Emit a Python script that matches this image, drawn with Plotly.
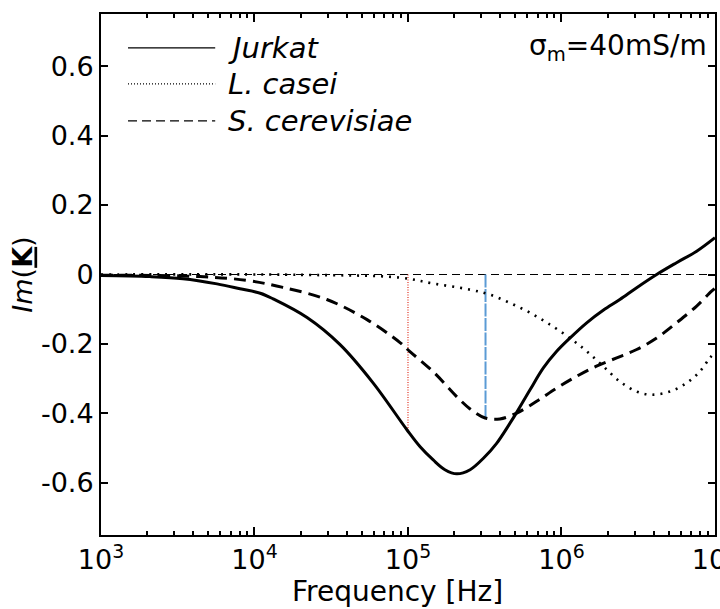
import plotly.graph_objects as go

# Frequencies [Hz] and Im(K) values
freq_jurkat = [1.0e3, 2.08e3, 3.42e3, 5.70e3, 8.05e3, 1.09e4, 1.32e4, 2.20e4, 3.61e4, 5.92e4,
               9.84e4, 1.20e5, 1.46e5, 1.74e5, 2.08e5, 2.54e5, 3.10e5, 3.78e5, 4.62e5, 5.11e5,
               6.24e5, 7.62e5, 9.31e5, 1.135e6, 1.46e6, 1.87e6, 2.40e6, 3.09e6, 4.17e6, 5.62e6,
               7.60e6, 1.0e7]
im_jurkat = [-0.003, -0.006, -0.012, -0.027, -0.041, -0.054, -0.070, -0.124, -0.202, -0.312,
             -0.447, -0.496, -0.534, -0.562, -0.574, -0.562, -0.529, -0.486, -0.428, -0.397,
             -0.332, -0.269, -0.221, -0.183, -0.139, -0.103, -0.072, -0.038, 0.0, 0.034,
             0.067, 0.106]

freq_casei = [1.0e3, 1.98e4, 8.87e4, 1.46e5, 2.50e5, 3.42e5, 4.62e5, 6.24e5, 8.41e5, 1.135e6,
              1.46e6, 1.87e6, 2.40e6, 3.09e6, 3.86e6, 5.09e6, 6.55e6, 7.98e6, 9.27e6, 1.0e7]
im_casei = [0.0, -0.001, -0.009, -0.026, -0.043, -0.058, -0.082, -0.110, -0.144, -0.183,
            -0.221, -0.264, -0.308, -0.337, -0.346, -0.337, -0.312, -0.279, -0.240, -0.225]

freq_cerev = [1.0e3, 4.42e3, 8.93e3, 1.53e4, 2.96e4, 5.41e4, 8.87e4, 1.03e5, 1.46e5, 2.18e5,
              2.54e5, 3.18e5, 3.97e5, 5.11e5, 6.89e5, 9.31e5, 1.256e6, 1.69e6, 2.29e6, 3.09e6,
              4.17e6, 5.62e6, 7.60e6, 9.51e6, 1.0e7]
im_cerev = [-0.002, -0.006, -0.017, -0.037, -0.072, -0.130, -0.196, -0.222, -0.280, -0.361,
            -0.387, -0.413, -0.416, -0.399, -0.365, -0.327, -0.293, -0.264, -0.240, -0.216,
            -0.183, -0.139, -0.091, -0.048, -0.040]

# Marker lines (crossover frequencies)
red_freq = [1.0e5, 1.0e5]
red_im = [0.0, -0.447]
blue_freq = [3.2e5, 3.2e5]
blue_im = [0.0, -0.413]

zero_freq = [1.0e3, 1.0e7]
zero_im = [0.0, 0.0]

x_tickvals = [1e3, 1e4, 1e5, 1e6, 1e7]
x_ticktext = ['10<sup>3</sup>', '10<sup>4</sup>', '10<sup>5</sup>', '10<sup>6</sup>', '10<sup>7</sup>']
x_minor = [m * 10 ** e for e in range(3, 7) for m in range(2, 10)]
y_tickvals = [-0.6, -0.4, -0.2, 0, 0.2, 0.4, 0.6]
y_ticktext = ['-0.6', '-0.4', '-0.2', '0', '0.2', '0.4', '0.6']

FONT = 'DejaVu Sans'

fig = go.Figure()

# zero reference line
fig.add_trace(go.Scatter(x=zero_freq, y=zero_im, mode='lines',
                         line=dict(color='black', width=1.2, dash='8px,5px'), showlegend=False))
# vertical markers
fig.add_trace(go.Scatter(x=red_freq, y=red_im, mode='lines',
                         line=dict(color='#e03020', width=1.2, dash='1px,1.5px'), showlegend=False))
fig.add_trace(go.Scatter(x=blue_freq, y=blue_im, mode='lines',
                         line=dict(color='#5b9bd5', width=2, dash='13px,1.5px'), showlegend=False))

# the three curves
fig.add_trace(go.Scatter(x=freq_jurkat, y=im_jurkat, mode='lines', line_shape='spline',
                         line=dict(color='black', width=3, smoothing=1.0), showlegend=False))
fig.add_trace(go.Scatter(x=freq_casei, y=im_casei, mode='lines', line_shape='spline',
                         line=dict(color='black', width=2.6, dash='2px,6px', smoothing=1.0), showlegend=False))
fig.add_trace(go.Scatter(x=freq_cerev, y=im_cerev, mode='lines', line_shape='spline',
                         line=dict(color='black', width=3, dash='12px,7px', smoothing=1.0), showlegend=False))

# hand made legend (long line samples like the original)
legend_items = [('Jurkat', 'solid', 0.935), ('L. casei', '1px,2px', 0.866), ('S. cerevisiae', '9px,5px', 0.795)]
for name, dash, ypos in legend_items:
    fig.add_shape(type='line', xref='paper', yref='paper', x0=0.044, x1=0.186, y0=ypos, y1=ypos,
                  line=dict(color='black', width=1.3, dash=dash))
    fig.add_annotation(xref='paper', yref='paper', x=0.203, y=ypos, text='<i>' + name + '</i>',
                       showarrow=False, xanchor='left', yanchor='middle',
                       font=dict(family=FONT, size=29, color='black'))

fig.add_annotation(xref='paper', yref='paper', x=0.99, y=0.935, text='σ<sub>m</sub>=40mS/m',
                   showarrow=False, xanchor='right', yanchor='middle',
                   font=dict(family=FONT, size=28, color='black'))

# x axis title, sits a little left of the plot centre in the original
fig.add_annotation(xref='paper', yref='paper', x=0.483, y=-0.109, text='Frequency [Hz]',
                   showarrow=False, xanchor='center', yanchor='middle',
                   font=dict(family=FONT, size=28, color='black'))

axis_common = dict(showline=True, linecolor='black', linewidth=2, mirror='ticks', ticks='inside',
                   tickcolor='black', tickwidth=1.5, showgrid=False, zeroline=False, automargin=False,
                   tickfont=dict(family=FONT, size=27, color='black'))

fig.update_xaxes(type='log', range=[3, 7.0002], tickvals=x_tickvals, ticktext=x_ticktext, ticklen=8,
                 ticklabeloverflow='allow',
                 minor=dict(tickvals=x_minor, ticks='inside', ticklen=4, tickcolor='black',
                            tickwidth=1.5, showgrid=False),
                 **axis_common)
fig.update_yaxes(range=[-0.75, 0.75], tickvals=y_tickvals, ticktext=y_ticktext, ticklen=7,
                 title=dict(text='<i>Im</i>(<u><b>K</b></u>)', font=dict(family=FONT, size=27, color='black'),
                            standoff=0),
                 **axis_common)

fig.update_layout(width=720, height=609, margin=dict(l=101, r=5, t=14, b=74),
                  plot_bgcolor='white', paper_bgcolor='white', showlegend=False)

fig.write_html('out.html', config={'displayModeBar': False},
               post_script="document.body.style.margin='0';")
